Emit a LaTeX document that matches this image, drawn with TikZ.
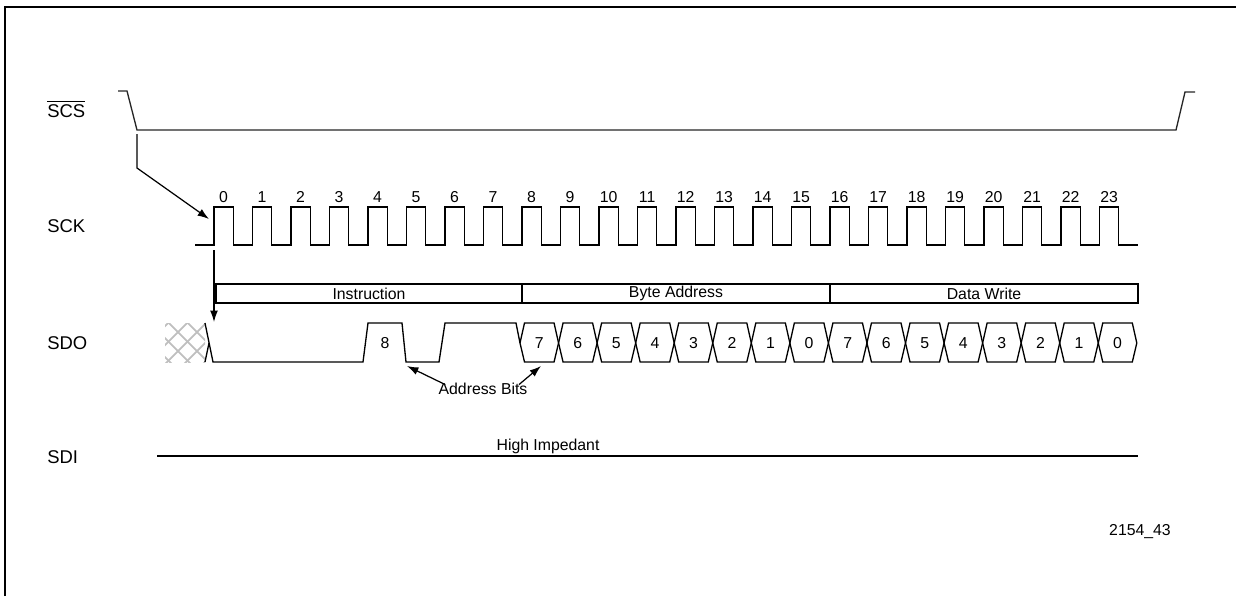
\documentclass[tikz,border=0pt]{standalone}
\usepackage{fontspec}
\setmainfont{Liberation Sans}
\usepackage{amsmath}
\usetikzlibrary{arrows.meta}

\begin{document}
\begin{tikzpicture}[x=0.02cm, y=-0.02cm,
    sig/.style={line width=0.75pt},
    lbl/.style={font=\fontsize{10.5}{12}\selectfont, anchor=base west, inner sep=0pt},
    num/.style={font=\fontsize{9}{11}\selectfont, inner sep=0pt},
    ptr/.style={-{Latex[length=6.5pt, width=4.5pt]}, line width=0.7pt}]
  \useasboundingbox (0,0) rectangle (1236,596);
  \draw[line width=1.2pt] (5,596) -- (5,7) -- (1236,7);

  % signal names
  \node[lbl] (lcs)  at (47,117) {$\overline{\text{SCS}}$};
  \node[lbl] (lsck) at (47,232) {SCK};
  \node[lbl] (lsdo) at (47,349) {SDO};
  \node[lbl] (lsdi) at (47,463) {SDI};

  % chip select
  \draw[sig, black!85] (118,91) -- (127,91) -- (137,130) -- (1176,130) -- (1185,92) -- (1195,92);

  % clock, 24 pulses
  \draw[sig] (195,245) \foreach \k in {0,...,23} {
      -- ({214+38.5*\k},245) -- ({214+38.5*\k},207) -- ({233.2+38.5*\k},207) -- ({233.2+38.5*\k},245)}
    -- (1138,245);
  \foreach \k in {0,...,23}
    \node[num] (t\k) at ({223.6+38.5*\k},197) {\k};

  % CS falling edge -> first clock edge -> SDO
  \coordinate (csfall) at (137,134);
  \coordinate (csbend) at (137,168);
  \coordinate (clkrise) at (209,219);
  \coordinate (clklow) at (214,250);
  \coordinate (sdostart) at (214,322);
  \draw[ptr] (csfall) -- (csbend) -- (clkrise);
  \draw[ptr] (clklow) -- (sdostart);

  % frame fields
  \draw[sig] (216,284) rectangle (1138,303);
  \draw[sig] (522,284) -- (522,303);
  \draw[sig] (830,284) -- (830,303);
  \node[num] (instr) at (369,293.5) {Instruction};
  \node[num] (baddr) at (676,293.5) {Byte Address};
  \node[num] (dwr)   at (984,293.5) {Data Write};

  % SDO: undefined before the first edge
  \begin{scope}
    \clip (165,323) rectangle (205,362);
    \foreach \c in {-6,...,6} {
      \draw[black!25, line width=1pt] (150,{510+19*\c-150}) -- (220,{510+19*\c-220});
      \draw[black!25, line width=1pt] (150,{150+154+19*\c}) -- (220,{220+154+19*\c});
    }
  \end{scope}
  \draw[sig] (205,362) -- (209,343);
  \draw[sig] (205,323) -- (213,362) -- (363,362) -- (368,323) -- (402,323) -- (406,362)
    -- (439,362) -- (445,323) -- (516,323) -- (520,343);
  \node[num] (a8) at (385,343) {8};

  % address and data bits
  \foreach \bitval [count=\j from 0] in {7,6,5,4,3,2,1,0,7,6,5,4,3,2,1,0} {
    \pgfmathsetmacro\xa{520+38.55*\j}
    \pgfmathsetmacro\xb{\xa+38.55}
    \draw[sig] (\xa,343) -- (\xa+4.5,323) -- (\xb-4.5,323) -- (\xb,343) -- (\xb-4.5,362) -- (\xa+4.5,362) -- cycle;
    \node[num] (bit\j) at ({(\xa+\xb)/2},343) {\bitval};
  }

  % address bits callout
  \node[num] (addr) at (483,389) {Address Bits};
  \coordinate (a8end) at (407,366);
  \coordinate (a7start) at (541,366);
  \draw[ptr] ([xshift=4pt, yshift=-1pt]addr.north west) -- (a8end);
  \draw[ptr] ([xshift=-5pt, yshift=-1pt]addr.north east) -- (a7start);

  % SDI
  \draw[sig] (157,456) -- (1138,456);
  \node[num] (hiz) at (548,446) {High Impedant};

  \node[num] (fig) at (1140,532) {2154\_43};
\end{tikzpicture}
\end{document}
